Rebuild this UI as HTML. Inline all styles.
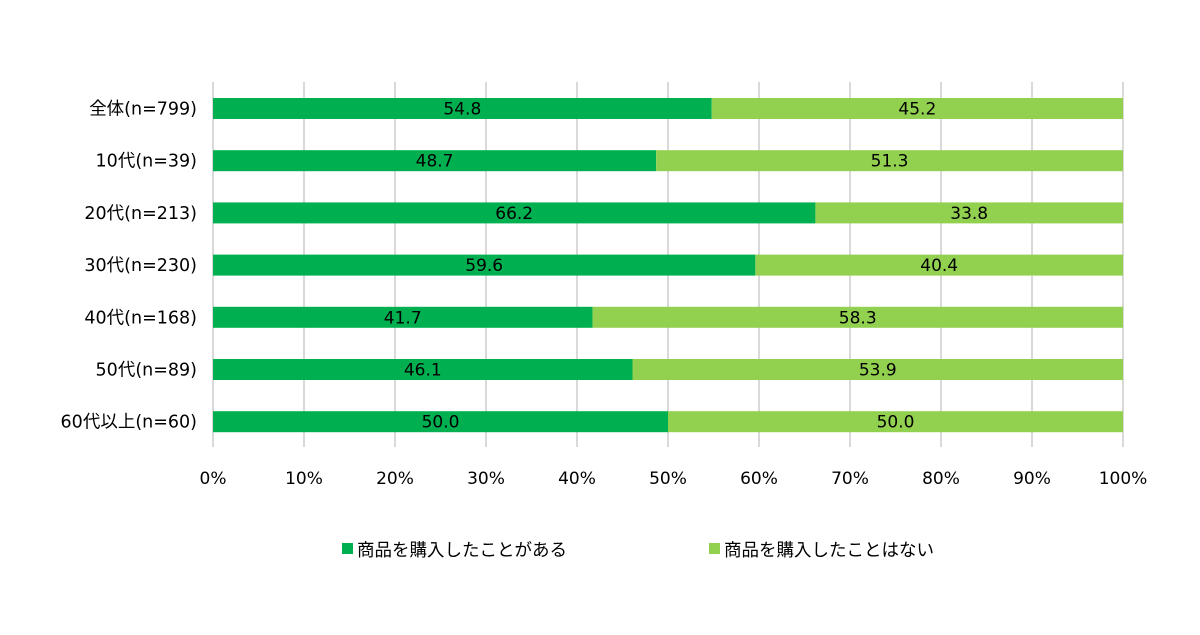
<!DOCTYPE html>
<html><head><meta charset="utf-8"><style>
html,body{margin:0;padding:0;background:#fff;}
svg text{font-family:"DejaVu Sans","Noto Sans CJK JP",sans-serif;}
</style></head><body>
<svg id="chart" width="1200" height="630" viewBox="0 0 1200 630" xmlns="http://www.w3.org/2000/svg">
<g id="grid"></g>
<g id="bars"></g>
<g id="ylabels"></g>
<g id="xlabels"></g>
<g>
<rect x="342" y="543" width="11" height="11" fill="#00B050"/>
<text x="357" y="556" font-size="17.5" fill="#000">商品を購入したことがある</text>
<rect x="709" y="543" width="11" height="11" fill="#92D050"/>
<text x="724" y="556" font-size="17.5" fill="#000">商品を購入したことはない</text>
</g>
</svg>
<script>
const categories=["全体(n=799)","10代(n=39)","20代(n=213)","30代(n=230)","40代(n=168)","50代(n=89)","60代以上(n=60)"];
const purchased=[54.8,48.7,66.2,59.6,41.7,46.1,50.0];
const notPurchased=[45.2,51.3,33.8,40.4,58.3,53.9,50.0];
const xTicks=[0,10,20,30,40,50,60,70,80,90,100];
const tickLabels=["0%","10%","20%","30%","40%","50%","60%","70%","80%","90%","100%"];
const NS="http://www.w3.org/2000/svg";
const x0=213,x1=1123,yTop=82,rowH=52.2,barH=21;
const xs=v=>x0+(x1-x0)*v/100;
const yc=i=>108.5+i*rowH;
function mk(tag,attrs,parent){const e=document.createElementNS(NS,tag);for(const k in attrs)e.setAttribute(k,attrs[k]);parent.appendChild(e);return e;}
const grid=document.getElementById('grid'),bars=document.getElementById('bars'),yl=document.getElementById('ylabels'),xl=document.getElementById('xlabels');
xTicks.forEach((t,i)=>{
 const l=mk('line',{x1:xs(t),x2:xs(t),y1:yTop,y2:447,stroke:'#d9d9d9','stroke-width':2},grid);
 
 
 const tx=mk('text',{x:xs(t),y:484,'font-size':17,'text-anchor':'middle',fill:'#000'},xl);
 tx.textContent=tickLabels[i];
 
 
});
categories.forEach((c,i)=>{
 const y=yc(i);
 const lab=mk('text',{x:197,y:y+6,'font-size':17.5,'text-anchor':'end',fill:'#000'},yl);
 lab.textContent=c;
 
 
 const a=purchased[i],b=notPurchased[i];
 const r1=mk('rect',{x:xs(0),y:y-barH/2,width:xs(a)-xs(0),height:barH,fill:'#00B050'},bars);
 
 
 const r2=mk('rect',{x:xs(a),y:y-barH/2,width:xs(a+b)-xs(a),height:barH,fill:'#92D050'},bars);
 
 
 const t1=mk('text',{x:(xs(0)+xs(a))/2,y:y+6,'font-size':17,'text-anchor':'middle',fill:'#000'},bars);
 t1.textContent=a.toFixed(1);
 
 
 const t2=mk('text',{x:(xs(a)+xs(a+b))/2,y:y+6,'font-size':17,'text-anchor':'middle',fill:'#000'},bars);
 t2.textContent=b.toFixed(1);
 
 
});
</script>
</body></html>
